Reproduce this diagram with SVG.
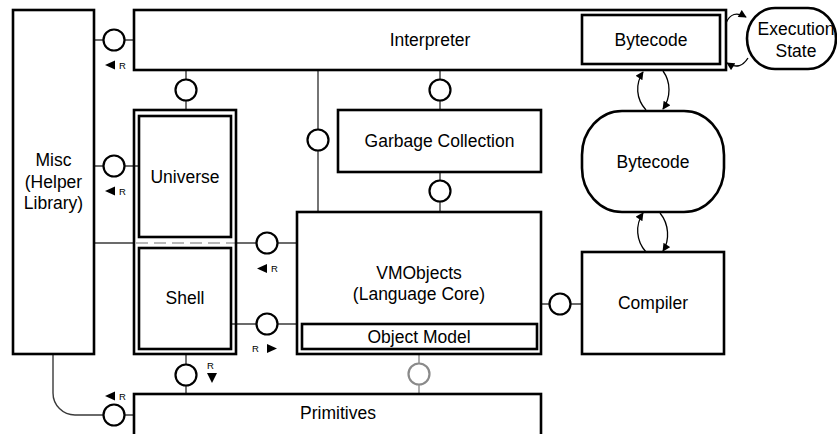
<svg xmlns="http://www.w3.org/2000/svg" width="837" height="434" viewBox="0 0 837 434">
<style>
  .box{fill:#fff;stroke:#000;stroke-width:2.6}
  .ln{fill:none;stroke:#3a3a3a;stroke-width:1.4}
  .lg{fill:none;stroke:#8a8a8a;stroke-width:1.4}
  .ifc{fill:#fff;stroke:#000;stroke-width:2.2}
  .ifg{fill:#fff;stroke:#8a8a8a;stroke-width:2.2}
  .arc{fill:none;stroke:#000;stroke-width:1.3;marker-end:url(#ah)}
  .t{font-family:"Liberation Sans",Arial,sans-serif;font-size:17.5px;fill:#000;text-anchor:middle}
  .r{font-family:"Liberation Sans",Arial,sans-serif;font-size:9.5px;fill:#000}
  .tri{fill:#000}
</style>
<defs>
  <marker id="ah" viewBox="0 0 10 10" refX="9" refY="5" markerWidth="9" markerHeight="8" markerUnits="userSpaceOnUse" orient="auto">
    <path d="M0,0 L10,5 L0,10 z" fill="#000"/>
  </marker>
</defs>
<rect width="837" height="434" fill="#fff"/>

<g id="connectors">
  <line class="ln" x1="94" y1="40" x2="134" y2="40"/>
  <circle class="ifc" cx="114" cy="40" r="10.5"/>
  <line class="ln" x1="94" y1="166" x2="139" y2="166"/>
  <circle class="ifc" cx="114" cy="166" r="10.5"/>
  <line class="ln" x1="94" y1="243" x2="134" y2="243"/>
  <line x1="136" y1="243" x2="235" y2="243" stroke="#b8b8b8" stroke-width="2" stroke-dasharray="12,6"/>
  <line class="ln" x1="236" y1="243" x2="297" y2="243"/>
  <circle class="ifc" cx="267" cy="243" r="10.5"/>
  <line class="ln" x1="231" y1="324" x2="297" y2="324"/>
  <circle class="ifc" cx="267" cy="324" r="10.5"/>
  <line class="ln" x1="186" y1="70" x2="186" y2="110"/>
  <circle class="ifc" cx="186" cy="90" r="10.5"/>
  <line class="ln" x1="318" y1="70" x2="318" y2="212"/>
  <circle class="ifc" cx="318" cy="140" r="10.5"/>
  <line class="ln" x1="440" y1="70" x2="440" y2="110"/>
  <circle class="ifc" cx="440" cy="90" r="10.5"/>
  <line class="ln" x1="440" y1="172" x2="440" y2="212"/>
  <circle class="ifc" cx="440" cy="191" r="10.5"/>
  <line class="ln" x1="541" y1="304" x2="582" y2="304"/>
  <circle class="ifc" cx="560" cy="304" r="10.5"/>
  <line class="ln" x1="186" y1="354" x2="186" y2="394"/>
  <circle class="ifc" cx="186" cy="375" r="10.5"/>
  <line class="lg" x1="419" y1="354" x2="419" y2="394"/>
  <circle class="ifg" cx="419" cy="374" r="10.5"/>
  <path class="ln" d="M53 354 V393 A22 22 0 0 0 75 415 H134"/>
  <circle class="ifc" cx="114" cy="415" r="10.5"/>

  <path class="tri" d="M105 65 L115 60.5 L115 69.5 z"/>
  <text class="r" x="119" y="68.5">R</text>
  <path class="tri" d="M105 191 L115 186.5 L115 195.5 z"/>
  <text class="r" x="119" y="194.5">R</text>
  <path class="tri" d="M257 268.5 L267 264 L267 273 z"/>
  <text class="r" x="271" y="271.5">R</text>
  <text class="r" x="252" y="351.5">R</text>
  <path class="tri" d="M277 348.5 L267 344 L267 353 z"/>
  <text class="r" x="207" y="369">R</text>
  <path class="tri" d="M207 373 L217 373 L212 383 z"/>
  <path class="tri" d="M105 396 L115 391.5 L115 400.5 z"/>
  <text class="r" x="119" y="399.5">R</text>

  <path class="arc" d="M646 110 C636 99 635 84 643 72"/>
  <path class="arc" d="M663 71 C671 82 671 97 663 109"/>
  <path class="arc" d="M646 252 C636 241 635 225 643 213"/>
  <path class="arc" d="M660 213 C669 224 670 240 663 251"/>
  <path class="arc" d="M726 23 Q732 9 746 17"/>
  <path class="arc" d="M748 58 Q740 71 727 63"/>
</g>

<g id="misc">
  <rect class="box" x="13" y="10" width="81" height="344"/>
  <text class="t" x="53.5" y="166">Misc</text>
  <text class="t" x="53.5" y="188">(Helper</text>
  <text class="t" x="53.5" y="209">Library)</text>
</g>

<g id="interpreter">
  <rect class="box" x="134" y="10" width="592" height="60"/>
  <text class="t" x="430" y="46">Interpreter</text>
</g>
<g id="interpreter-bytecode">
  <rect class="box" x="582" y="15" width="138" height="49"/>
  <text class="t" x="651" y="46">Bytecode</text>
</g>

<g id="execution-state">
  <rect class="box" x="747" y="8" width="89" height="61" rx="28" ry="30.5"/>
  <text class="t" x="796" y="35">Execution</text>
  <text class="t" x="796" y="57">State</text>
</g>

<g id="universe-shell">
  <rect x="134" y="110" width="102" height="244" fill="none" stroke="#000" stroke-width="2.6"/>
</g>
<g id="universe">
  <rect class="box" x="139" y="116" width="92" height="121"/>
  <text class="t" x="185" y="183">Universe</text>
</g>
<g id="shell">
  <rect class="box" x="139" y="248" width="92" height="101"/>
  <text class="t" x="185" y="304">Shell</text>
</g>

<g id="garbage-collection">
  <rect class="box" x="338" y="110" width="203" height="62"/>
  <text class="t" x="439.5" y="147">Garbage Collection</text>
</g>

<g id="vmobjects">
  <rect class="box" x="297" y="212" width="244" height="142"/>
  <text class="t" x="419" y="279">VMObjects</text>
  <text class="t" x="419" y="300">(Language Core)</text>
</g>
<g id="object-model">
  <rect class="box" x="302" y="324" width="235" height="25"/>
  <text class="t" x="419" y="343">Object Model</text>
</g>

<g id="bytecode">
  <rect class="box" x="582" y="111" width="142" height="101" rx="40" ry="44"/>
  <text class="t" x="653" y="168">Bytecode</text>
</g>

<g id="compiler">
  <rect class="box" x="582" y="252" width="142" height="102"/>
  <text class="t" x="653" y="309">Compiler</text>
</g>

<g id="primitives">
  <rect class="box" x="134" y="394" width="407" height="60"/>
  <text class="t" x="338" y="419">Primitives</text>
</g>
</svg>
